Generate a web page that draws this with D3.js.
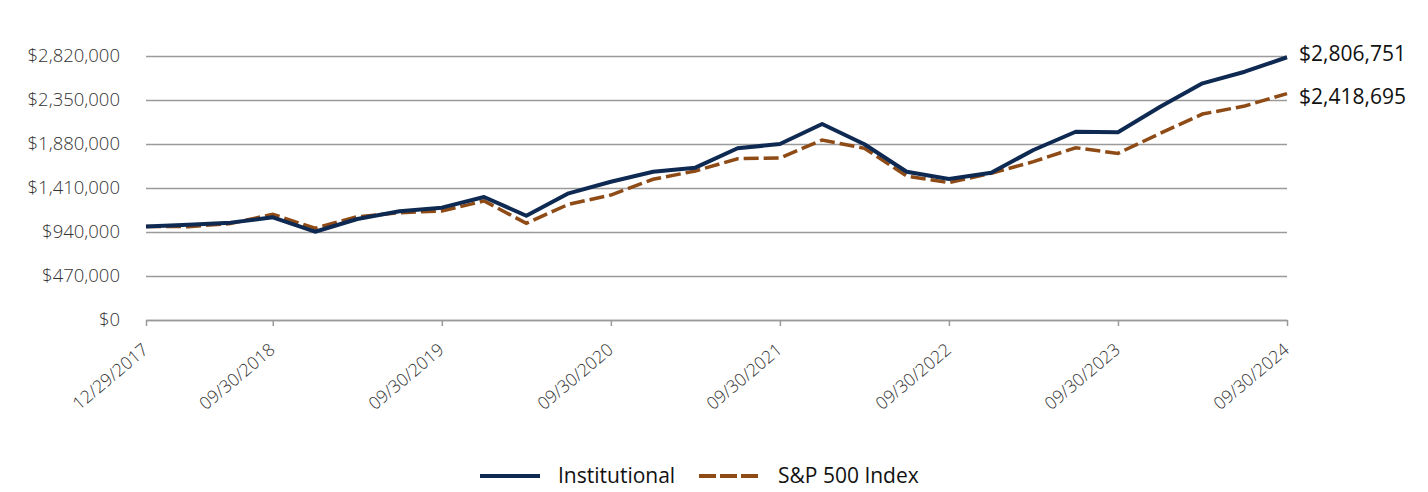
<!DOCTYPE html>
<html>
<head>
<meta charset="utf-8">
<script src="https://cdn.jsdelivr.net/npm/d3@7"></script>
<style>
body{margin:0;background:#fff;font-family:"Open Sans",sans-serif;}
</style>
</head>
<body>
<script>
const dates=["12/29/2017","03/31/2018","06/30/2018","09/30/2018","12/31/2018","03/31/2019","06/30/2019","09/30/2019",
"12/31/2019","03/31/2020","06/30/2020","09/30/2020","12/31/2020","03/31/2021","06/30/2021","09/30/2021",
"12/31/2021","03/31/2022","06/30/2022","09/30/2022","12/31/2022","03/31/2023","06/30/2023","09/30/2023",
"12/31/2023","03/31/2024","06/30/2024","09/30/2024"];
const institutional=[1000000,1018000,1040000,1097000,943000,1079000,1161000,1200000,
1314000,1114000,1353000,1477000,1584000,1627000,1834000,1880000,
2094000,1877000,1584000,1506000,1573000,1816000,2011000,2005000,
2278000,2528000,2652000,2806751];
const sp500=[1000000,997000,1030000,1129000,980000,1103000,1146000,1164000,
1272000,1033000,1236000,1335000,1503000,1592000,1723000,1730000,
1923000,1834000,1538000,1467000,1568000,1691000,1840000,1780000,
1994000,2200000,2286000,2418695];
const yTicks=[0,470000,940000,1410000,1880000,2350000,2820000];
const xLabels=["12/29/2017","09/30/2018","09/30/2019","09/30/2020","09/30/2021","09/30/2022","09/30/2023","09/30/2024"];
const seriesNames=["Institutional","S&P 500 Index"];

const width=1428,height=492,
padL=146,padR=1287,padT=56,padB=320,
navy="#0f2a52",brown="#8e4b16",grid="#9a9a9a";

const svg=d3.select("body").append("svg")
 .attr("width",width).attr("height",height);

const x=d3.scalePoint().domain(dates).range([padL,padR]);
const y=d3.scaleLinear().domain([0,2820000]).range([padB,padT]);
const fmt=d3.format("$,");

// gridlines + y labels
const yAxis=d3.axisLeft(y).tickValues(yTicks).tickSize(-(padR-padL)).tickFormat(fmt).tickPadding(26);
const gy=svg.append("g").attr("transform",`translate(${padL},0)`).call(yAxis);
gy.select(".domain").remove();
gy.selectAll(".tick line").attr("stroke",grid).attr("stroke-width",1.5);
gy.selectAll(".tick text").attr("fill","#333").style("font-size","18.5px")
 .style("font-family","Open Sans").style("font-weight",300);

// x axis
const xAxis=d3.axisBottom(x).tickValues(xLabels).tickSize(6).tickSizeOuter(0);
const gx=svg.append("g").attr("transform",`translate(0,${padB})`).call(xAxis);
gx.select(".domain").attr("stroke",grid).attr("stroke-width",1.5);
gx.selectAll(".tick line").attr("stroke",grid).attr("stroke-width",1.5);
gx.selectAll(".tick text")
 .attr("fill","#333").style("font-size","17.5px").style("font-family","Open Sans").style("font-weight",300)
 .attr("text-anchor","end")
 .attr("transform","translate(-1,27) rotate(-40)")
 .attr("dy","0.35em").attr("y",0);

const line=d3.line().x((d,i)=>x(dates[i])).y(d=>y(d));

svg.append("path").datum(sp500)
 .attr("d",line).attr("fill","none").attr("stroke",brown)
 .attr("stroke-width",3.5).attr("stroke-dasharray","15,5");
svg.append("path").datum(institutional)
 .attr("d",line).attr("fill","none").attr("stroke",navy)
 .attr("stroke-width",4).attr("stroke-linejoin","round");

// end labels
svg.append("text").attr("x",padR+12).attr("y",y(institutional[27])-4)
 .attr("dy","0.35em").style("font-size","21px").attr("fill","#111")
 .text(fmt(institutional[27]));
svg.append("text").attr("x",padR+12).attr("y",y(sp500[27])+3)
 .attr("dy","0.35em").style("font-size","21px").attr("fill","#111")
 .text(fmt(sp500[27]));

// legend
const legend=svg.append("g").attr("transform","translate(0,476)");
[[480,558,navy,null],[699,778,brown,"17,4"]].forEach((l,i)=>{
 legend.append("line").attr("x1",l[0]).attr("x2",l[0]+60).attr("y1",0).attr("y2",0)
  .attr("stroke",l[2]).attr("stroke-width",4).attr("stroke-dasharray",l[3]);
 legend.append("text").attr("x",l[1]).attr("y",0).attr("dy","0.35em")
  .style("font-size","21px").attr("fill","#111").text(seriesNames[i]);
});
</script>
</body>
</html>
